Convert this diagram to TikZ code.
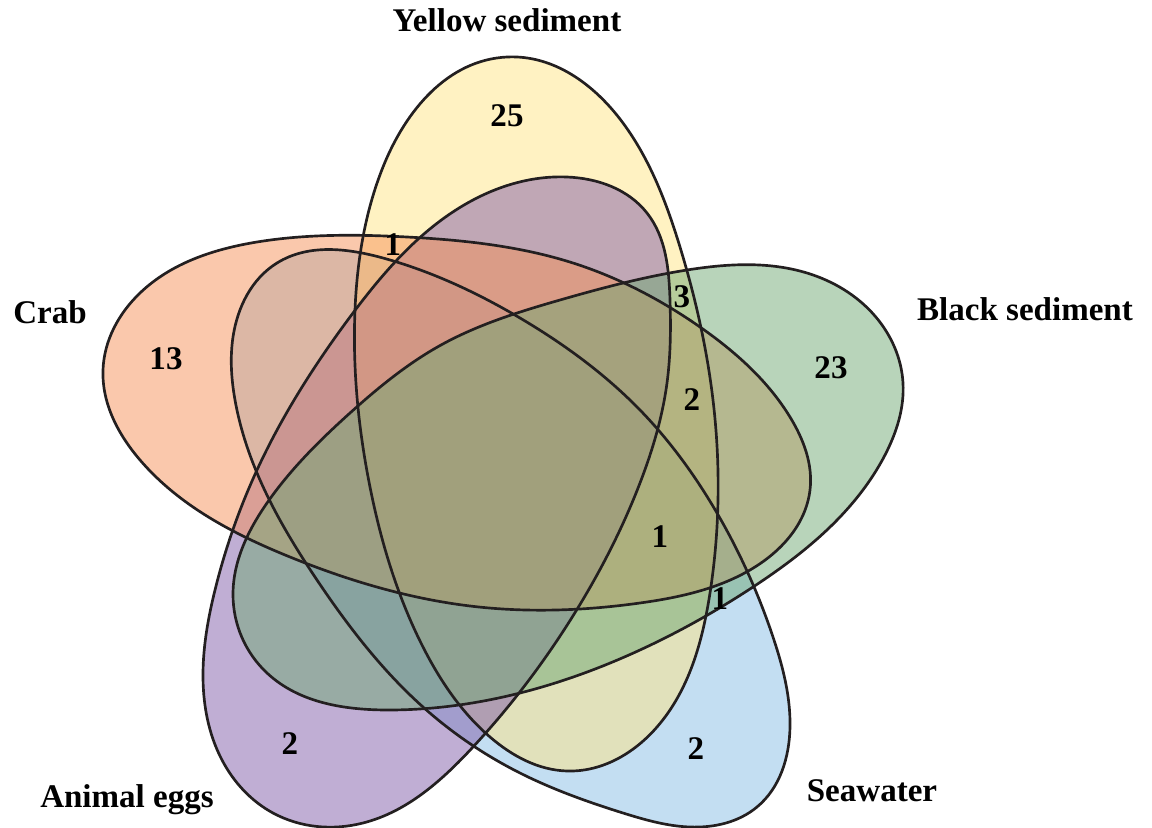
\documentclass[tikz,border=0pt]{standalone}
\usepackage{fontspec}
\setmainfont{Liberation Serif}
\usetikzlibrary{hobby}
\definecolor{yellowset}{RGB}{255,229,133}
\definecolor{crabset}{RGB}{245,145,89}
\definecolor{blackset}{RGB}{113,169,117}
\definecolor{seaset}{RGB}{135,189,229}
\definecolor{eggset}{RGB}{129,93,169}
\definecolor{rimcol}{RGB}{35,31,32}
\begin{document}
\begin{tikzpicture}[x=0.025cm,y=-0.025cm]
  \tikzstyle{venn}=[fill opacity=0.5]
  \tikzstyle{rim}=[draw=rimcol,line width=1.9pt]
  \tikzstyle{setname}=[font=\fontsize{23.5}{28}\selectfont\bfseries,inner sep=0pt,anchor=base]
  \tikzstyle{count}=[setname]
  \useasboundingbox (0,0) rectangle (1152,828);
  % the five eggs
  \path[save path=\seaegg] plot[closed hobby] coordinates {(233,337) (277,263) (383,258) (520,318) (640,410) (717,513) (773,637) (790,727) (757,807) (690,827) (623,813) (520,773) (423,707) (317,580) (257,473) (235,400)};
  \path[save path=\yellowegg] plot[closed hobby] coordinates {(507,57) (623,123) (680,247) (713,400) (710,593) (657,727) (567,771) (490,737) (423,647) (370,487) (355,310) (383,167)};
  \path[save path=\animalegg] plot[closed hobby] coordinates {(567,177) (647,213) (670,300) (667,383) (640,483) (576,611) (473,747) (363,823) (273,813) (222,760) (203,673) (215,590) (257,470) (350,317) (473,200)};
  \path[save path=\crabegg] plot[closed hobby] coordinates {(103,370) (140,293) (257,242) (407,237) (573,263) (700,327) (790,417) (810,490) (750,570) (640,603) (470,606) (290,557) (140,460)};
  \path[save path=\blackegg] plot[closed hobby] coordinates {(233,595) (267,673) (390,710) (520,693) (640,650) (753,587) (840,517) (885,455) (903,383) (875,316) (807,273) (687,270) (560,300) (441,345) (350,413) (267,503)};
  \fill[seaset,venn,use path=\seaegg];
  \fill[yellowset,venn,use path=\yellowegg];
  \fill[eggset,venn,use path=\animalegg];
  \fill[crabset,venn,use path=\crabegg];
  \fill[blackset,venn,use path=\blackegg];
  \draw[rim,use path=\seaegg];
  \draw[rim,use path=\yellowegg];
  \draw[rim,use path=\animalegg];
  \draw[rim,use path=\crabegg];
  \draw[rim,use path=\blackegg];
  % set names
  \node[setname] (yellow) at (507,32) {Yellow sediment};
  \node[setname] (crab) at (50,323) {Crab};
  \node[setname] (black) at (1025,320) {Black sediment};
  \node[setname] (sea) at (872,801) {Seawater};
  \node[setname] (eggs) at (127,807) {Animal eggs};
  % counts
  \node[count] (n25) at (507,127) {25};
  \node[count] (n13) at (166,369) {13};
  \node[count] (nyc) at (393,255) {1};
  \node[count] (nyb) at (682,307) {3};
  \node[count] (n23) at (831,378) {23};
  \node[count] (nybc) at (692,410) {2};
  \node[count] (nmid) at (660,547) {1};
  \node[count] (nbs) at (720,609) {1};
  \node[count] (negg) at (290,754) {2};
  \node[count] (nsea) at (696,759) {2};
\end{tikzpicture}
\end{document}
